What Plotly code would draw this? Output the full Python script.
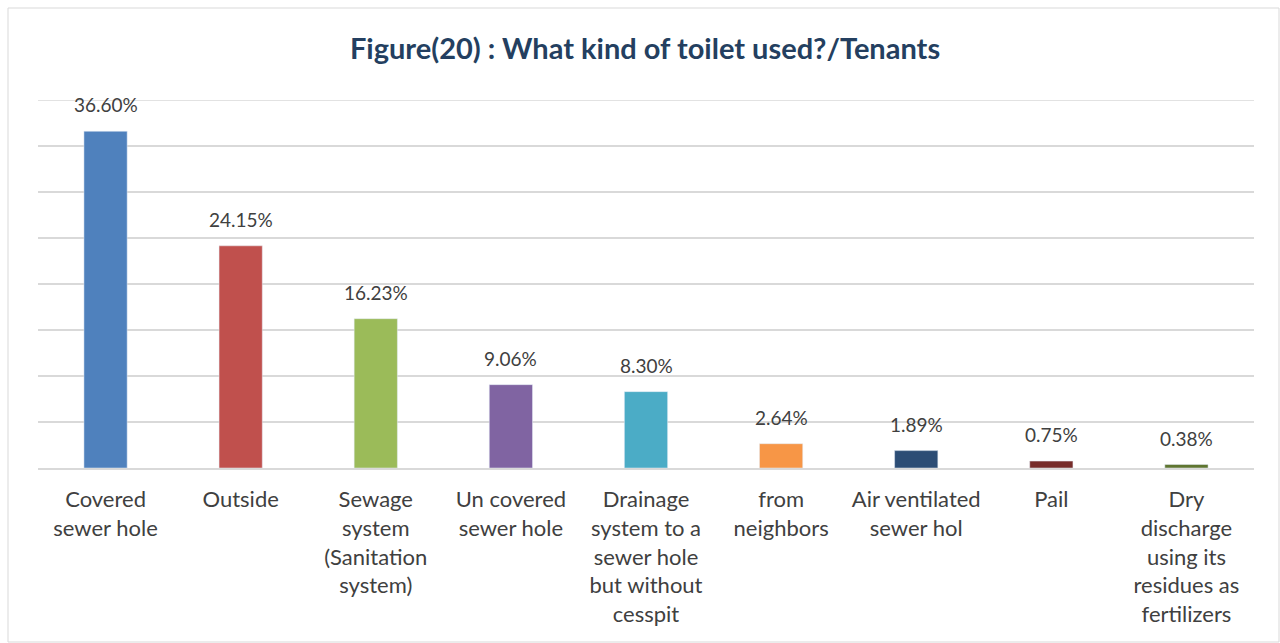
import plotly.graph_objects as go

categories = [
    "Covered<br>sewer hole",
    "Outside",
    "Sewage<br>system<br>(Sanitation<br>system)",
    "Un covered<br>sewer hole",
    "Drainage<br>system to a<br>sewer hole<br>but without<br>cesspit",
    "from<br>neighbors",
    "Air ventilated<br>sewer hol",
    "Pail",
    "Dry<br>discharge<br>using its<br>residues as<br>fertilizers",
]
shares = [36.60, 24.15, 16.23, 9.06, 8.30, 2.64, 1.89, 0.75, 0.38]
bar_colors = ["#4f81bd", "#c0504d", "#9bbb59", "#8064a2", "#4bacc6",
              "#f79646", "#2c4d75", "#772c2a", "#5f7530"]
y_max = 40

FONT = "Lato, 'Open Sans', sans-serif"

# plot area in pixels
L, R, T, B = 38, 1254, 100, 468
W, H = 1280, 643

fig = go.Figure(go.Bar(
    x=categories,
    y=shares,
    marker_color=bar_colors,
    width=0.32,
    hoverinfo="skip",
))

# value labels above each bar
for cat, v in zip(categories, shares):
    fig.add_annotation(
        x=cat, y=v, text=f"{v:.2f}%", showarrow=False,
        yanchor="bottom", yshift=13,
        font=dict(family=FONT, size=19, color="#404040"),
    )

def px_x(p):
    return (p - L) / (R - L)

def px_y(p):
    return (B - p) / (B - T)

# outer chart border
fig.add_shape(type="rect", xref="paper", yref="paper",
              x0=px_x(8), x1=px_x(1279), y0=px_y(642), y1=px_y(8),
              line=dict(color="#d9d9d9", width=1), fillcolor="rgba(0,0,0,0)",
              layer="below")

# top gridline at the axis maximum
fig.add_shape(type="line", xref="paper", yref="y",
              x0=0, x1=1, y0=y_max, y1=y_max,
              line=dict(color="#d9d9d9", width=1.5), layer="below")

fig.update_layout(
    width=W, height=H,
    margin=dict(l=L, r=W - R, t=T, b=H - B, pad=0),
    paper_bgcolor="white", plot_bgcolor="white",
    showlegend=False,
    bargap=0.68,
    title=dict(
        text="<b>Figure(20) : What kind of toilet used?/Tenants</b>",
        x=645 / W, xanchor="center", y=1 - 49 / H, yanchor="middle",
        font=dict(family=FONT, size=29, color="#243f60"),
    ),
    xaxis=dict(
        tickfont=dict(family=FONT, size=22, color="#404040"),
        showline=True, linecolor="#d9d9d9", linewidth=2,
        ticks="", showgrid=False, ticklabelstandoff=11,
    ),
    yaxis=dict(
        range=[0, y_max], tickvals=[5, 10, 15, 20, 25, 30, 35],
        showticklabels=False,
        showgrid=True, gridcolor="#d9d9d9", gridwidth=1.5,
        zeroline=False, showline=False,
    ),
)

fig.write_html("out.html")
